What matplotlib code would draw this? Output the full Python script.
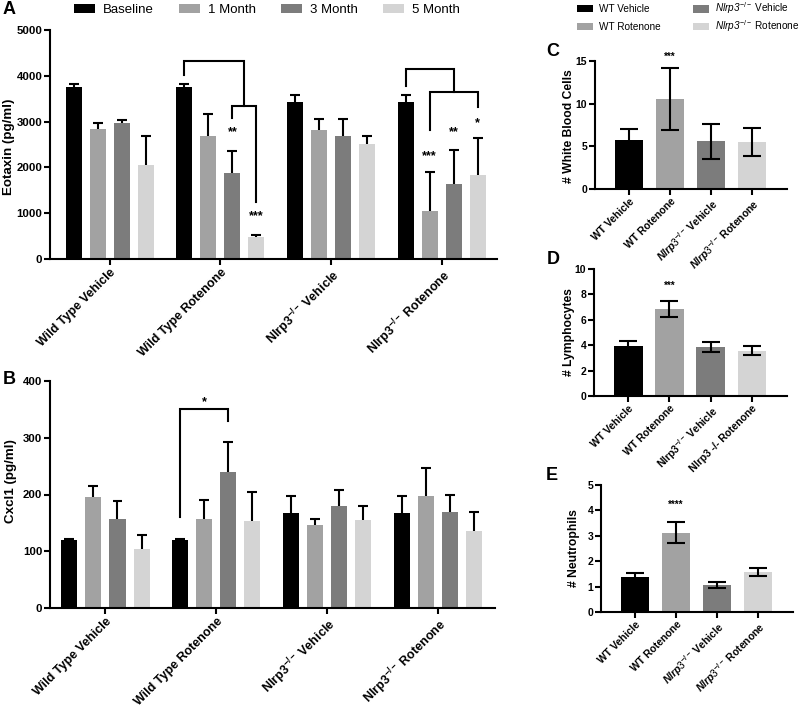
import matplotlib
matplotlib.use('Agg')
import matplotlib.pyplot as plt
import numpy as np

plt.rcParams['font.family'] = ['Liberation Sans', 'DejaVu Sans']
plt.rcParams['mathtext.fontset'] = 'custom'
plt.rcParams['mathtext.rm'] = 'Liberation Sans'
plt.rcParams['mathtext.bf'] = 'Liberation Sans:bold'
plt.rcParams['mathtext.it'] = 'Liberation Sans:italic:bold'
plt.rcParams['mathtext.sf'] = 'Liberation Sans:italic'

# ---------------- data ----------------
groups = ['Wild Type Vehicle', 'Wild Type Rotenone',
          r'Nlrp3$^{\mathbf{-/-}}$ Vehicle', r'Nlrp3$^{\mathbf{-/-}}$ Rotenone']
timepoints = ['Baseline', '1 Month', '3 Month', '5 Month']
tp_colors = ['#000000', '#a2a2a2', '#7c7c7c', '#d4d4d4']

eotaxin_baseline = [3750, 3750, 3430, 3430]
eotaxin_1m = [2840, 2680, 2810, 1040]
eotaxin_3m = [2960, 1870, 2680, 1630]
eotaxin_5m = [2060, 475, 2510, 1830]
eotaxin_err_baseline = [75, 75, 140, 140]
eotaxin_err_1m = [125, 476, 255, 853]
eotaxin_err_3m = [70, 488, 381, 743]
eotaxin_err_5m = [617, 58, 175, 817]

cxcl1_baseline = [119, 119, 167, 167]
cxcl1_1m = [195, 156, 147, 197]
cxcl1_3m = [156, 240, 179, 169]
cxcl1_5m = [104, 154, 155, 136]
cxcl1_err_baseline = [3, 3, 30, 30]
cxcl1_err_1m = [20, 34, 10, 50]
cxcl1_err_3m = [32, 53, 29, 30]
cxcl1_err_5m = [25, 50, 25, 34]

cbc_colors = ['#000000', '#a2a2a2', '#7c7c7c', '#d4d4d4']
legend_labels = ['WT Vehicle', 'WT Rotenone',
                 r'$\mathsf{Nlrp3}^{\mathrm{-/-}}$ Vehicle',
                 r'$\mathsf{Nlrp3}^{\mathrm{-/-}}$ Rotenone']
labels_C = ['WT Vehicle', 'WT Rotenone',
            r'$\mathit{Nlrp3}^{\mathbf{-/-}}$ Vehicle',
            r'$\mathit{Nlrp3}^{\mathbf{-/-}}$ Rotenone']
labels_D = ['WT Vehicle', 'WT Rotenone',
            r'Nlrp3$^{\mathbf{-/-}}$ Vehicle', 'Nlrp3 -/- Rotenone']
labels_E = labels_C

wbc = [5.72, 10.53, 5.6, 5.48]
wbc_err = [1.33, 3.6, 2.05, 1.65]
lymph = [3.95, 6.84, 3.84, 3.58]
lymph_err = [0.37, 0.63, 0.4, 0.37]
neut = [1.39, 3.12, 1.07, 1.58]
neut_err = [0.16, 0.42, 0.12, 0.17]

# ---------------- figure ----------------
W, H = 800, 714
fig = plt.figure(figsize=(8, 7.14), dpi=100)

def fax(l, t, r, b):
    return fig.add_axes([l / W, 1 - b / H, (r - l) / W, (b - t) / H])

LW = 1.5

def style(ax, fs):
    for s in ['top', 'right']:
        ax.spines[s].set_visible(False)
    for s in ['left', 'bottom']:
        ax.spines[s].set_linewidth(LW)
    ax.tick_params(width=LW, length=4, labelsize=fs, pad=1.5)

offsets = np.array([-0.326, -0.109, 0.109, 0.326])
bw = 0.145
capw = 0.045

def grouped(ax, means, errs, ylim, yticks, ylabel, lab_xy):
    x = np.arange(len(groups))
    for i, (m, e) in enumerate(zip(means, errs)):
        xs = x + offsets[i]
        m = np.array(m); e = np.array(e)
        ax.bar(xs, m, bw, color=tp_colors[i], label=timepoints[i], zorder=2)
        ax.vlines(xs, m, m + e, color='black', lw=LW, zorder=3)
        ax.hlines(m + e, xs - capw, xs + capw, color='black', lw=LW, zorder=3)
    ax.set_ylim(*ylim)
    ax.set_yticks(yticks)
    ax.set_yticklabels([str(t) for t in yticks], fontweight='bold')
    ax.set_xticks(x)
    ax.set_xticklabels(groups, rotation=45, ha='right', va='top',
                       rotation_mode='anchor', fontweight='bold', fontsize=9)
    ax.set_ylabel(ylabel, fontsize=9.6, fontweight='bold')
    ax.yaxis.set_label_coords(*lab_xy)
    style(ax, 8.2)
    for t in ax.get_xticklabels():
        t.set_fontsize(9)

axA = fax(50, 30, 497, 259)
grouped(axA, [eotaxin_baseline, eotaxin_1m, eotaxin_3m, eotaxin_5m],
        [eotaxin_err_baseline, eotaxin_err_1m, eotaxin_err_3m, eotaxin_err_5m],
        (0, 5000), [0, 1000, 2000, 3000, 4000, 5000], 'Eotaxin (pg/ml)', (-0.078, 0.49))
axA.set_xlim(-0.54, 3.5)

axB = fax(50, 381, 495, 608)
grouped(axB, [cxcl1_baseline, cxcl1_1m, cxcl1_3m, cxcl1_5m],
        [cxcl1_err_baseline, cxcl1_err_1m, cxcl1_err_3m, cxcl1_err_5m],
        (0, 400), [0, 100, 200, 300, 400], 'Cxcl1 (pg/ml)', (-0.074, 0.56))
axB.set_xlim(-0.5, 3.515)

def bracket(ax, xs, ys):
    ax.plot(xs, ys, color='black', lw=LW, solid_joinstyle='miter', clip_on=False, zorder=4)

# Panel A brackets
bracket(axA, [1 + offsets[0], 1 + offsets[0], 1.217, 1.217], [4016, 4330, 4330, 3338])
bracket(axA, [1 + offsets[2], 1 + offsets[2], 1 + offsets[3], 1 + offsets[3]], [3068, 3338, 3338, 1246])
bracket(axA, [3 + offsets[0], 3 + offsets[0], 3.108, 3.108], [3776, 4140, 4140, 3652])
bracket(axA, [3 + offsets[1], 3 + offsets[1], 3 + offsets[3], 3 + offsets[3]], [2813, 3652, 3652, 3324])
star_kw = dict(ha='center', va='center', fontsize=9, fontweight='bold')
axA.text(1 + offsets[2], 2760, '**', **star_kw)
axA.text(1 + offsets[3], 930, '***', **star_kw)
axA.text(3 + offsets[1], 2250, '***', **star_kw)
axA.text(3 + offsets[2], 2760, '**', **star_kw)
axA.text(3 + offsets[3], 2960, '*', **star_kw)

# Panel B bracket
bracket(axB, [1 + offsets[0], 1 + offsets[0], 1 + offsets[2], 1 + offsets[2]], [161, 351.5, 351.5, 330])
axB.text(1 + offsets[1], 362, '*', **star_kw)

fig.legend(handles=axA.containers, labels=timepoints, loc='upper left',
           bbox_to_anchor=(74 / W, 1 - 4 / H), ncol=4, frameon=False,
           fontsize=9.5, handlelength=1.6, handleheight=0.6, handletextpad=0.6,
           columnspacing=1.9, borderpad=0, borderaxespad=0)

def simple(ax, vals, errs, ylim, yticks, ylabel, xlabels, star, stary, lab_xy):
    x = np.arange(4)
    bars = ax.bar(x, vals, 0.7, color=cbc_colors, zorder=2)
    ax.errorbar(x, vals, yerr=errs, fmt='none', ecolor='black', elinewidth=LW,
                capsize=6.5, capthick=LW, zorder=3)
    ax.set_ylim(*ylim)
    ax.set_xlim(-0.83, 3.85)
    ax.set_yticks(yticks)
    ax.set_yticklabels([str(t) for t in yticks], fontweight='bold')
    ax.set_xticks(x)
    ax.set_xticklabels(xlabels, rotation=45, ha='right', va='top',
                       rotation_mode='anchor', fontweight='bold', fontsize=7.5)
    ax.set_ylabel(ylabel, fontsize=8.7, fontweight='bold')
    ax.yaxis.set_label_coords(*lab_xy)
    style(ax, 7.5)
    for t in ax.get_xticklabels():
        t.set_fontsize(7.5)
    ax.text(1, stary, star, ha='center', va='center', fontsize=7, fontweight='bold')
    return bars

axC = fax(595, 61, 787, 189)
barsC = simple(axC, wbc, wbc_err, (0, 15), [0, 5, 10, 15], '# White Blood Cells', labels_C,
               '***', 15.5, (-0.104, 0.49))
axD = fax(594, 269, 787, 396)
simple(axD, lymph, lymph_err, (0, 10), [0, 2, 4, 6, 8, 10], '# Lymphocytes', labels_D,
       '***', 8.7, (-0.1, 0.5))
axE = fax(601, 485, 793, 612)
simple(axE, neut, neut_err, (0, 5), [0, 1, 2, 3, 4, 5], '# Neutrophils', labels_E,
       '****', 4.2, (-0.11, 0.5))

hC = list(barsC)
leg_kw = dict(loc='upper left', ncol=1, frameon=False, fontsize=7.2, handlelength=1.6,
              handleheight=0.8, handletextpad=0.6, borderpad=0, borderaxespad=0)
fig.legend(handles=hC[:2], labels=legend_labels[:2], bbox_to_anchor=(577 / W, 1 - 4 / H),
           labelspacing=0.8, **leg_kw)
fig.legend(handles=hC[2:], labels=legend_labels[2:], bbox_to_anchor=(693 / W, 1 - 0.5 / H),
           labelspacing=0.2, **leg_kw)

for lab, (px, py) in zip('ABCDE', [(9, 9), (9, 380), (553, 52), (553, 259), (552, 476)]):
    fig.text(px / W, 1 - py / H, lab, fontsize=13, fontweight='bold', ha='center', va='center')

fig.savefig('out.png', dpi=100)
